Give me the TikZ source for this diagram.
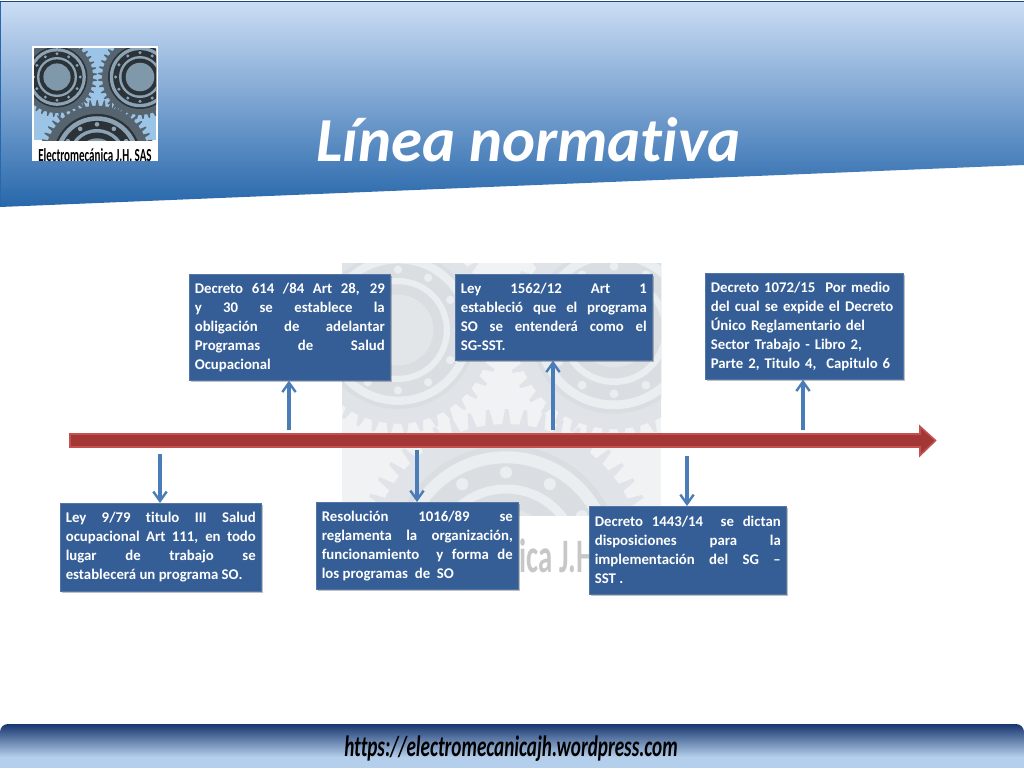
\documentclass[tikz,border=0pt]{standalone}
\usepackage{fontspec}
\setmainfont[Ligatures={TeX,NoCommon}]{Carlito}
\usetikzlibrary{shadows,arrows.meta}
\tolerance=9999 \hbadness=10000 \hfuzz=20pt \hyphenpenalty=10000 \exhyphenpenalty=10000
\definecolor{boxblue}{HTML}{355E96}
\definecolor{arrowblue}{HTML}{4A7DB8}
\definecolor{redfill}{HTML}{A23735}
\definecolor{redline}{HTML}{C4514F}
\definecolor{headtop}{HTML}{CBDDF4}
\definecolor{headmid}{HTML}{88B0DA}
\definecolor{headbot}{HTML}{2767AB}
\definecolor{foottop}{HTML}{17366F}
\definecolor{footbot}{HTML}{B4CFEB}
\definecolor{logosky}{HTML}{9CC4E6}
\definecolor{logobase}{HTML}{56646F}
\definecolor{logodark}{HTML}{2B3238}
\definecolor{logolight}{HTML}{8BA3B5}
\definecolor{logohub}{HTML}{7F98AA}
\definecolor{wmback}{HTML}{F0F2F4}
\definecolor{wmbase}{HTML}{E0E3E7}
\definecolor{wmdark}{HTML}{DADEE2}
\definecolor{wmlight}{HTML}{EBEEF0}
\definecolor{wmhub}{HTML}{E3E6E9}
\newcommand{\gearshape}[8]{% cx cy R teeth base dark light hub
  \begin{scope}[shift={(#1,#2)}]
    \fill[#5] (0:#3*0.90)
      \foreach \k in {1,...,#4} {
        -- ({(\k-0.72)/#4*360}:#3*0.90) -- ({(\k-0.55)/#4*360}:#3) -- ({(\k-0.38)/#4*360}:#3)
        -- ({(\k-0.22)/#4*360}:#3*0.90) -- ({\k/#4*360}:#3*0.90)
      } -- cycle;
    \fill[#6] (0,0) circle[radius=#3*0.76];
    \fill[#7] (0,0) circle[radius=#3*0.72];
    \fill[#6] (0,0) circle[radius=#3*0.64];
    \foreach \k in {0,30,...,330} { \fill[#7] (\k:#3*0.58) circle[radius=#3*0.04]; }
    \fill[#7] (0,0) circle[radius=#3*0.50];
    \fill[#6] (0,0) circle[radius=#3*0.44];
    \fill[#8] (0,0) circle[radius=#3*0.34];
  \end{scope}}
\tikzset{
  infobox/.style={fill=boxblue,draw=boxblue!85!white,line width=.5pt,text=white,
    font=\fontsize{11.1}{14.25}\selectfont\bfseries,anchor=north west,inner xsep=4.1pt,inner ysep=0pt,
    align=justify,drop shadow={shadow xshift=1.2pt,shadow yshift=-1.2pt,opacity=.25,fill=black}},
  linkarrow/.style={draw=arrowblue,line width=2.3pt,-{Straight Barb[length=7pt,width=10pt,line width=1.8pt]}},
}
\begin{document}
\begin{tikzpicture}[x=0.75pt,y=-0.75pt]
\useasboundingbox (0,0) rectangle (1024,768);
\fill[white] (0,0) rectangle (1024,768);
% header band
\shade[top color=headtop,middle color=headmid,bottom color=headbot] (0,2) -- (1024,2) -- (1024,165) -- (0,207) -- cycle;
\draw[color=headbot!70!black,line width=.8pt] (0,1.5) -- (1024,1.5);
\draw[color=headbot,line width=.8pt] (0.5,2) -- (0.5,207);
% logo
\fill[white] (32,46) rectangle (158,161);
\begin{scope}
  \clip (34,48) rectangle (156,140);
  \fill[logosky] (34,48) rectangle (156,140);
  \gearshape{97}{158}{58}{50}{logobase}{logodark}{logolight}{logohub}
  \gearshape{57}{77}{40}{40}{logobase}{logodark}{logolight}{logohub}
  \gearshape{140}{77}{42}{40}{logobase}{logodark}{logolight}{logohub}
\end{scope}
\node[font=\fontsize{11.5}{13}\selectfont\bfseries,text=black,inner sep=0pt] (logotext) at (95,155) {\scalebox{.72}[1.2]{Electromecánica J.H. SAS}};
% watermark
\begin{scope}
  \clip (342,263) rectangle (661,515);
  \fill[wmback] (342,263) rectangle (661,515);
  \gearshape{506}{560}{151}{50}{wmbase}{wmdark}{wmlight}{wmhub}
  \gearshape{398}{330}{104}{40}{wmbase}{wmdark}{wmlight}{wmhub}
  \gearshape{614}{330}{110}{40}{wmbase}{wmdark}{wmlight}{wmhub}
\end{scope}
\node[font=\fontsize{30}{32}\selectfont\bfseries,text=black!22,inner sep=0pt] (wmtext) at (505,556) {\scalebox{.72}[1.2]{Electromecánica J.H. SAS}};
% title
\node[font=\fontsize{47}{50}\selectfont\bfseries\itshape,text=white,inner sep=0pt] (title) at (528.5,140) {Línea normativa};
% info boxes
\node[infobox,text width=142.5pt,minimum height=79.5pt] (b1) at (189,274) {Decreto 614 /84 Art 28, 29\linebreak y 30 se establece la\linebreak obligación de adelantar\linebreak Programas de Salud\linebreak Ocupacional};
\node[infobox,text width=139.5pt,minimum height=64.5pt] (b2) at (455,274) {Ley 1562/12 Art 1\linebreak estableció que el programa\linebreak SO se entenderá como el\linebreak SG-SST.};
\node[infobox,text width=140.3pt,minimum height=79.5pt,align=left] (b3) at (705,273) {Decreto 1072/15\ \ Por medio\\ del cual se expide el Decreto\\ Único Reglamentario del\\ Sector Trabajo - Libro 2,\\ Parte 2, Titulo 4,\ \ Capitulo 6};
\node[infobox,text width=142.5pt,minimum height=66pt] (b4) at (60,503) {Ley 9/79 titulo III Salud\linebreak ocupacional Art 111, en todo\linebreak lugar de trabajo se\linebreak \mbox{establecerá un programa SO.}};
\node[infobox,text width=143.3pt,minimum height=65pt] (b5) at (316,502) {Resolución 1016/89 se\linebreak reglamenta la organización,\linebreak funcionamiento\ \ y forma de\linebreak los programas\ \ de\ \ SO};
\node[infobox,text width=139.5pt,minimum height=66pt] (b6) at (589,506) {Decreto 1443/14\ \ se dictan\linebreak disposiciones para la\linebreak implementación del SG --\linebreak SST .};
% timeline
\draw[fill=redfill,draw=redline,line width=1.2pt,line join=miter] (70,434) -- (920,434) -- (920,426.5) -- (935.5,440.5) -- (920,455.5) -- (920,447) -- (70,447) -- cycle;
% connectors
\coordinate (u1) at (289,430);
\coordinate (u2) at (553,430);
\coordinate (u3) at (803,430);
\coordinate (d1) at (160,454);
\coordinate (d2) at (417,450);
\coordinate (d3) at (687,456);
\draw[linkarrow] (u1) -- (u1 |- b1.south);
\draw[linkarrow] (u2) -- (u2 |- b2.south);
\draw[linkarrow] (u3) -- (u3 |- b3.south);
\draw[linkarrow] (d1) -- (d1 |- b4.north);
\draw[linkarrow] (d2) -- (d2 |- b5.north);
\draw[linkarrow] (d3) -- (d3 |- b6.north);
% footer
\fill[footbot] (0,756) rectangle (1024,768);
\shade[top color=foottop,bottom color=footbot] (0,757) -- (0,732) to[out=90,in=180] (8,724) -- (1016,724) to[out=0,in=90] (1024,732) -- (1024,757) -- cycle;
\node[font=\fontsize{17}{20}\selectfont\bfseries\itshape,text=black,inner sep=0pt] (url) at (511,749) {\scalebox{.847}[1.3]{https://electromecanicajh.wordpress.com}};
\end{tikzpicture}
\end{document}
